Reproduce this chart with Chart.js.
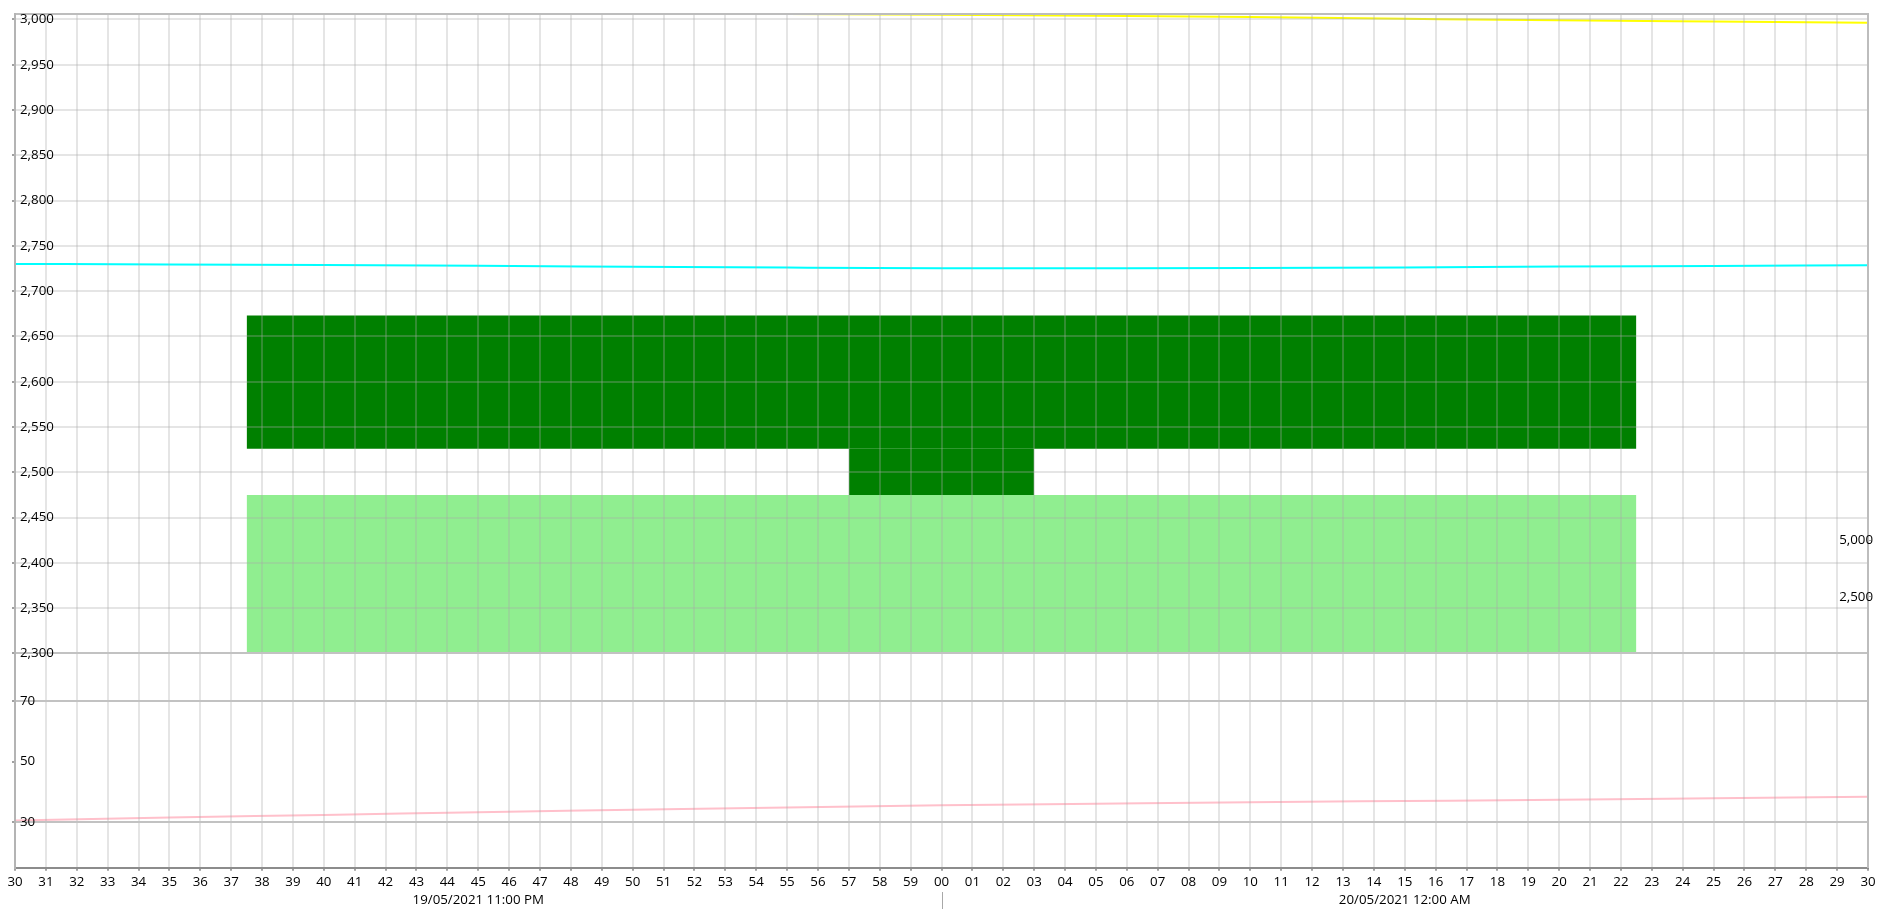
<!DOCTYPE html>
<html><head><meta charset="utf-8">
<script src="https://cdn.jsdelivr.net/npm/chart.js@4"></script>
<style>html,body{margin:0;padding:0;background:#fff;overflow:hidden}#wrap{width:1884px;height:911px;position:relative}</style>
</head><body><div id="wrap"><canvas id="c"></canvas></div>
<script>
// ---- data ----
const minutes = [0,5,10,15,20,25,30,35,40,45,50,55,60];
const yellowSeries = [3011,3009.8,3008.7,3007.7,3006.8,3006.0,3005.2,3004.1,3002.6,3000.8,2999.1,2997.7,2996.4];
const cyanSeries = [2730,2729.5,2728.8,2728,2727,2726,2725.3,2725.2,2725.5,2726.2,2727.2,2727.8,2728.5];
const pinkSeries = [30.6,31.6,32.4,33.3,34.1,34.9,35.6,36.1,36.6,37.0,37.4,37.9,38.4];
const boxSpan = [7.5, 52.5];
const stemSpan = [27, 33];
const lightBand = [2300, 2475];
const stemBand = [2475, 2526];
const darkBand = [2526, 2673];
const minuteLabels = ['30','31','32','33','34','35','36','37','38','39','40','41','42','43','44','45','46','47','48','49','50','51','52','53','54','55','56','57','58','59','00','01','02','03','04','05','06','07','08','09','10','11','12','13','14','15','16','17','18','19','20','21','22','23','24','25','26','27','28','29','30'];
const dateLabels = ['19/05/2021 11:00 PM', '20/05/2021 12:00 AM'];
const dateLabelAt = [15, 45];
const midnightAt = 30;
const upperTicks = [2300,2350,2400,2450,2500,2550,2600,2650,2700,2750,2800,2850,2900,2950,3000];
const lowerTicks = [30,50,70];
const lowerGridTicks = [30,70];
const rightTicks = [2500,5000];

const FONT = {family: "'Segoe UI','Open Sans','Noto Sans',sans-serif", size: 13.3, lineHeight: 1.36};
const LIGHT_GRID = 'rgba(170,170,170,0.3)';
const DARK_GRID = '#c2c2c2';

const pts = (xs, ys) => xs.map((x, i) => ({x, y: ys[i]}));
const flat = (span, v) => span.map(x => ({x, y: v}));

const separatorPlugin = {
  id: 'sep',
  afterDraw(chart) {
    const s = chart.scales.x;
    const px = Math.round(s.getPixelForValue(midnightAt)) + 0.5;
    const ctx = chart.ctx;
    ctx.save();
    ctx.strokeStyle = '#a8a8a8';
    ctx.lineWidth = 1;
    ctx.beginPath();
    ctx.moveTo(px, s.bottom - 19);
    ctx.lineTo(px, s.bottom - 2);
    ctx.stroke();
    ctx.restore();
  }
};

new Chart(document.getElementById('c'), {
  type: 'line',
  data: {
    datasets: [
      {data: flat(boxSpan, lightBand[1]), fill: {value: lightBand[0]}, backgroundColor: '#90ee90', borderWidth: 0, pointRadius: 0, yAxisID: 'y', xAxisID: 'x'},
      {data: flat(stemSpan, stemBand[1]), fill: {value: stemBand[0]}, backgroundColor: '#008000', borderWidth: 0, pointRadius: 0, yAxisID: 'y', xAxisID: 'x'},
      {data: flat(boxSpan, darkBand[1]), fill: {value: darkBand[0]}, backgroundColor: '#008000', borderWidth: 0, pointRadius: 0, yAxisID: 'y', xAxisID: 'x'},
      {data: pts(minutes, cyanSeries), borderColor: '#00ffff', borderWidth: 2, pointRadius: 0, fill: false, cubicInterpolationMode: 'monotone', yAxisID: 'y', xAxisID: 'x'},
      {data: pts(minutes, yellowSeries), borderColor: '#ffff00', borderWidth: 2, pointRadius: 0, fill: false, cubicInterpolationMode: 'monotone', yAxisID: 'y', xAxisID: 'x'},
      {data: pts(minutes, pinkSeries), borderColor: '#ffc0cb', borderWidth: 2, pointRadius: 0, fill: false, cubicInterpolationMode: 'monotone', yAxisID: 'y2', xAxisID: 'x'}
    ]
  },
  options: {
    responsive: true,
    maintainAspectRatio: false,
    animation: false,
    layout: {padding: {left: 2, right: 3, top: 10, bottom: 0}},
    plugins: {legend: {display: false}, tooltip: {enabled: false}},
    scales: {
      x: {
        type: 'linear', position: 'bottom', min: 0, max: 60,
        afterBuildTicks: s => { s.ticks = minuteLabels.map((_, i) => ({value: i})); },
        ticks: {
          autoSkip: false, maxRotation: 0, minRotation: 0, padding: 2, color: '#000', font: FONT,
          callback: (v) => {
            const k = dateLabelAt.indexOf(v);
            return k >= 0 ? [minuteLabels[v], dateLabels[k]] : minuteLabels[v];
          }
        },
        grid: {z: 1, color: LIGHT_GRID, lineWidth: 2, tickLength: 3, tickColor: '#a0a0a0'},
        border: {z: 2, color: '#8c8c8c', width: 2}
      },
      x2: {
        type: 'linear', position: 'top', display: true,
        ticks: {display: false},
        grid: {display: false, drawTicks: false},
        border: {z: 2, color: '#bdbdbd', width: 2}
      },
      y2: {
        type: 'linear', position: 'left', stack: 'left', stackWeight: 216, min: 15, max: 85.6,
        afterBuildTicks: s => { s.ticks = lowerTicks.map(v => ({value: v})); },
        ticks: {z: 2, mirror: true, padding: 5, color: '#000', font: FONT, callback: v => v.toLocaleString('en-US')},
        grid: {z: 1, color: c => (c.tick && lowerGridTicks.includes(c.tick.value)) ? DARK_GRID : 'rgba(0,0,0,0)', lineWidth: 2, tickLength: 3, tickColor: '#a0a0a0'},
        border: {z: 2, color: '#b4b4b4', width: 2}
      },
      y: {
        type: 'linear', position: 'left', stack: 'left', stackWeight: 644, min: 2300, max: 3006,
        afterBuildTicks: s => { s.ticks = upperTicks.map(v => ({value: v})); },
        ticks: {z: 2, mirror: true, padding: 5, color: '#000', font: FONT, callback: v => v.toLocaleString('en-US')},
        grid: {z: 1, color: c => (c.tick && c.tick.value === upperTicks[0]) ? DARK_GRID : LIGHT_GRID, lineWidth: 2, tickLength: 3, tickColor: '#a0a0a0'},
        border: {z: 2, color: '#b4b4b4', width: 2}
      },
      y3: {
        type: 'linear', position: 'right', stack: 'right', stackWeight: 644, min: 0, max: 28250,
        afterBuildTicks: s => { s.ticks = rightTicks.map(v => ({value: v})); },
        ticks: {z: 2, mirror: true, padding: 5, color: '#000', font: FONT, callback: v => v.toLocaleString('en-US')},
        grid: {drawOnChartArea: false, tickLength: 3, tickColor: '#a0a0a0'},
        border: {z: 2, color: '#bdbdbd', width: 2}
      },
      y4: {
        type: 'linear', position: 'right', stack: 'right', stackWeight: 216, min: 0, max: 1,
        ticks: {display: false},
        grid: {drawOnChartArea: false, drawTicks: false},
        border: {z: 2, color: '#bdbdbd', width: 2}
      }
    }
  },
  plugins: [separatorPlugin]
});
</script>
</body></html>
